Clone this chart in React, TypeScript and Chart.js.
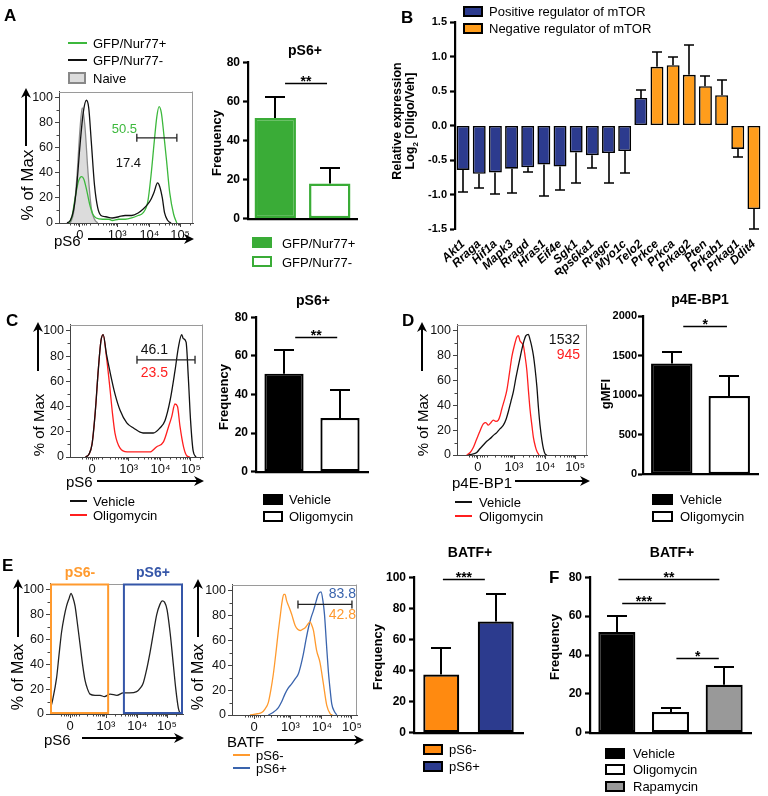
import React, { useEffect, useRef } from 'react';
import { Chart, registerables } from 'chart.js';
Chart.register(...registerables);

const FONT = "'Liberation Sans', Arial, Helvetica, sans-serif";
Chart.defaults.font.family = FONT;

// ---------------- DATA ----------------
// flow cytometry display axis (biexponential display units)
const FLOW_TICK_VALUES = [0, 1.15, 2.15, 3.1];
const FLOW_TICK_LABELS = ['0', '10³', '10⁴', '10⁵'];
const FLOW_Y_TICKS = [0, 20, 40, 60, 80, 100];
const FLOW_MINOR_X = [-0.3, -0.2, -0.12, -0.06, 0.06, 0.12, 0.2, 0.3, 0.55, 0.72, 0.82, 0.9, 0.96, 1.01, 1.06, 1.1, 1.45, 1.63, 1.75, 1.85, 1.93, 1.99, 2.05, 2.1, 2.45, 2.63, 2.75, 2.85, 2.92, 2.98, 3.03, 3.07, 3.4];
const FLOW_MINOR_Y = [10, 30, 50, 70, 90];

// Panel A
const A_HIST_NAIVE = [[-0.3, 0], [-0.2, 8], [-0.1, 35], [0, 75], [0.07, 92], [0.15, 78], [0.25, 40], [0.35, 12], [0.45, 3], [0.55, 0]];
const A_HIST_GFP_NEG = [[-0.4, 0], [-0.3, 2], [-0.2, 10], [-0.1, 30], [0, 62], [0.1, 88], [0.2, 98], [0.27, 92], [0.35, 65], [0.45, 30], [0.55, 12], [0.65, 6], [0.8, 5], [1.0, 4], [1.2, 5], [1.4, 6], [1.6, 6], [1.8, 8], [1.95, 11], [2.1, 15], [2.2, 19], [2.3, 25], [2.4, 32], [2.47, 29], [2.55, 20], [2.62, 8], [2.72, 2], [2.82, 0]];
const A_HIST_GFP_POS = [[-0.35, 0], [-0.25, 5], [-0.15, 20], [-0.05, 33], [0.05, 37], [0.12, 35], [0.2, 27], [0.3, 15], [0.4, 7], [0.5, 4], [0.7, 3], [0.9, 3], [1.0, 2], [1.2, 3], [1.4, 3], [1.6, 4], [1.8, 6], [1.95, 8], [2.1, 17], [2.2, 38], [2.3, 65], [2.38, 85], [2.45, 93], [2.52, 88], [2.6, 70], [2.68, 50], [2.78, 24], [2.9, 7], [3.0, 0]];
const A_GATE = { from: 1.76, to: 3.0, y: 68 };
const A_GATE_PCTS = ['50.5', '17.4'];
const A_GROUPS = ['GFP/Nur77+', 'GFP/Nur77-'];
const A_MEANS = [51.5, 18];
const A_SEM = [10.8, 8];
const A_SIG = [{ from: 0.18, to: 0.95, y: 69.5, label: '**' }];

// Panel B
const B_GENES = ['Akt1', 'Rraga', 'Hif1a', 'Mapk3', 'Rragd', 'Hras1', 'Eif4e', 'Sgk1', 'Rps6ka1', 'Rragc', 'Myo1c', 'Telo2', 'Prkce', 'Prkca', 'Prkag2', 'Pten', 'Prkab1', 'Prkag1', 'Ddit4'];
const B_LOG2 = [-0.644, -0.7, -0.68, -0.625, -0.606, -0.567, -0.596, -0.39, -0.43, -0.4, -0.37, 0.4, 0.85, 0.875, 0.735, 0.57, 0.44, -0.34, -1.21];
const B_SEM = [0.32, 0.21, 0.31, 0.355, 0.075, 0.45, 0.34, 0.45, 0.185, 0.44, 0.32, 0.11, 0.22, 0.115, 0.435, 0.15, 0.22, 0.11, 0.29];
const B_ROLE = ['pos', 'pos', 'pos', 'pos', 'pos', 'pos', 'pos', 'pos', 'pos', 'pos', 'pos', 'pos', 'neg', 'neg', 'neg', 'neg', 'neg', 'neg', 'neg'];

// Panel C
const C_HIST_VEH = [[-0.2, 0], [-0.1, 2], [0, 10], [0.1, 35], [0.2, 70], [0.28, 92], [0.35, 97], [0.45, 82], [0.56, 68], [0.72, 50], [0.88, 37], [1.09, 27], [1.3, 23], [1.6, 19], [1.92, 19], [2.13, 23], [2.29, 29], [2.45, 45], [2.6, 68], [2.71, 87], [2.81, 97], [2.86, 94], [2.95, 91], [3.02, 63], [3.09, 29], [3.17, 5], [3.26, 0]];
const C_HIST_OLIGO = [[-0.2, 0], [-0.1, 2], [0, 10], [0.1, 35], [0.2, 70], [0.28, 92], [0.35, 97], [0.45, 80], [0.56, 55], [0.64, 35], [0.72, 19], [0.88, 7], [1.1, 4], [1.3, 4], [1.6, 4], [1.82, 4], [2.02, 8], [2.24, 12], [2.4, 24], [2.5, 32], [2.6, 42], [2.68, 40], [2.76, 24], [2.87, 8], [2.97, 1], [3.07, 0]];
const C_GATE = { from: 1.41, to: 3.23, y: 77 };
const C_GATE_PCTS = ['46.1', '23.5'];
const C_GROUPS = ['Vehicle', 'Oligomycin'];
const C_MEANS = [50.8, 27.8];
const C_SEM = [12.2, 14.3];
const C_SIG = [{ from: 0.2, to: 0.95, y: 69.7, label: '**' }];

// Panel D
const D_HIST_VEH = [[-0.31, 0], [-0.15, 1], [-0.04, 2], [0.06, 5], [0.17, 8], [0.28, 11], [0.38, 13], [0.5, 16], [0.6, 18], [0.7, 21], [0.81, 24], [0.9, 29], [0.97, 35], [1.05, 43], [1.13, 51], [1.21, 62], [1.29, 72], [1.35, 79], [1.4, 85], [1.47, 92], [1.53, 96], [1.61, 97], [1.66, 93], [1.71, 88], [1.77, 80], [1.82, 70], [1.88, 55], [1.93, 38], [1.98, 24], [2.04, 12], [2.09, 5], [2.14, 1], [2.2, 0]];
const D_HIST_OLIGO = [[-0.36, 0], [-0.25, 2], [-0.15, 6], [-0.07, 11], [0.01, 16], [0.09, 21], [0.17, 25], [0.25, 26], [0.33, 24], [0.41, 26], [0.49, 28], [0.57, 27], [0.65, 28], [0.71, 32], [0.76, 37], [0.84, 44], [0.92, 52], [1.0, 65], [1.08, 79], [1.16, 88], [1.24, 95], [1.29, 96], [1.34, 92], [1.4, 90], [1.45, 88], [1.5, 80], [1.56, 68], [1.61, 52], [1.66, 37], [1.72, 24], [1.77, 14], [1.83, 7], [1.88, 3], [1.95, 0]];
const D_GMFI = ['1532', '945'];
const D_GROUPS = ['Vehicle', 'Oligomycin'];
const D_MEANS = [1400, 990];
const D_SEM = [140, 250];
const D_SIG = [{ from: 0.2, to: 0.96, y: 1879, label: '*' }];

// Panel E
const E_HIST_PS6 = [[-0.64, 3], [-0.55, 12], [-0.43, 29], [-0.35, 48], [-0.27, 66], [-0.19, 78], [-0.11, 87], [-0.03, 93], [0.03, 97], [0.1, 93], [0.16, 87], [0.24, 72], [0.32, 56], [0.4, 40], [0.48, 27], [0.56, 20], [0.64, 16], [0.8, 15], [0.96, 15], [1.1, 14], [1.28, 16], [1.5, 15], [1.7, 17], [1.9, 17], [2.13, 18], [2.25, 21], [2.34, 25], [2.45, 36], [2.56, 50], [2.67, 66], [2.77, 80], [2.87, 88], [2.95, 91], [3.02, 90], [3.1, 84], [3.2, 65], [3.3, 40], [3.38, 20], [3.46, 5], [3.52, 0]];
const E_PS6_GATES = [{ from: -0.64, to: 1.25 }, { from: 1.69, to: 3.61 }];
const E_HIST_BATF_NEG = [[-0.13, 0], [0.1, 1], [0.24, 2], [0.35, 5], [0.45, 10], [0.53, 20], [0.61, 33], [0.7, 52], [0.77, 68], [0.83, 80], [0.88, 90], [0.94, 97], [0.98, 97], [1.03, 92], [1.09, 88], [1.19, 81], [1.3, 72], [1.38, 69], [1.46, 68], [1.54, 69], [1.61, 70], [1.7, 73], [1.77, 75], [1.83, 72], [1.88, 68], [1.98, 52], [2.09, 42], [2.19, 26], [2.3, 8], [2.41, 1], [2.48, 0]];
const E_HIST_BATF_POS = [[0.45, 0], [0.6, 2], [0.77, 6], [0.88, 11], [0.98, 17], [1.09, 22], [1.19, 25], [1.3, 29], [1.4, 33], [1.48, 40], [1.56, 49], [1.64, 60], [1.72, 70], [1.8, 78], [1.88, 84], [1.96, 91], [2.03, 97], [2.12, 99], [2.18, 92], [2.23, 81], [2.29, 58], [2.35, 36], [2.41, 20], [2.46, 9], [2.54, 3], [2.62, 0]];
const E_GATE = { from: 1.39, to: 3.1, y: 89 };
const E_GATE_PCTS = ['83.8', '42.8'];
const E_GROUPS = ['pS6-', 'pS6+'];
const E_MEANS = [37.5, 71.5];
const E_SEM = [17, 17.7];
const E_SIG = [{ from: 0.03, to: 0.8, y: 98.7, label: '***' }];

// Panel F
const F_GROUPS = ['Vehicle', 'Oligomycin', 'Rapamycin'];
const F_MEANS = [51.8, 10.7, 24.7];
const F_SEM = [8.4, 2.1, 9.3];
const F_SIG = [
  { from: 0.03, to: 1.91, y: 79, label: '**' },
  { from: 0.1, to: 0.91, y: 66.5, label: '***' },
  { from: 1.11, to: 1.9, y: 38.5, label: '*' },
];

// ---------------- COLOURS ----------------
const GREEN = '#3aac37';
const GREEN_LINE = '#3cb83c';
const RED = '#ff1f1f';
const ORANGE_BAR = '#ff8a10';
const ORANGE_B = '#ff9d1c';
const ORANGE_LINE = '#ff9a2e';
const BLUE_BAR = '#2c3b8e';
const BLUE_LINE = '#3a64ad';
const GRAY_BAR = '#999999';

// ---------------- PLUGINS ----------------
function errorPlugin(errors: number[], cap: number, width = 2) {
  return {
    id: 'errorBars',
    afterDatasetsDraw(chart: any) {
      const ctx = chart.ctx;
      const meta = chart.getDatasetMeta(0);
      const ys = chart.scales.y;
      const vals = chart.data.datasets[0].data;
      ctx.save();
      ctx.strokeStyle = '#000';
      ctx.lineWidth = width;
      meta.data.forEach((el: any, i: number) => {
        const v = vals[i];
        const end = v >= 0 ? v + errors[i] : v - errors[i];
        const y1 = ys.getPixelForValue(v);
        const y2 = Math.round(ys.getPixelForValue(end));
        const x = Math.round(el.x);
        ctx.beginPath();
        ctx.moveTo(x, y1);
        ctx.lineTo(x, y2);
        ctx.moveTo(x - cap, y2);
        ctx.lineTo(x + cap, y2);
        ctx.stroke();
      });
      ctx.restore();
    },
  };
}

function sigPlugin(items: { from: number; to: number; y: number; label: string }[]) {
  return {
    id: 'sigBars',
    afterDatasetsDraw(chart: any) {
      const ctx = chart.ctx;
      const xs = chart.scales.x;
      const ys = chart.scales.y;
      const p0 = xs.getPixelForValue(0);
      const step = xs.getPixelForValue(1) - p0;
      ctx.save();
      ctx.strokeStyle = '#000';
      ctx.fillStyle = '#000';
      ctx.lineWidth = 1.5;
      ctx.font = `bold 14px ${FONT}`;
      ctx.textAlign = 'center';
      ctx.textBaseline = 'alphabetic';
      items.forEach((it) => {
        const a = p0 + it.from * step;
        const b = p0 + it.to * step;
        const y = Math.round(ys.getPixelForValue(it.y)) + 0.5;
        ctx.beginPath();
        ctx.moveTo(a, y);
        ctx.lineTo(b, y);
        ctx.stroke();
        ctx.fillText(it.label, (a + b) / 2, y + 2);
      });
      ctx.restore();
    },
  };
}

function flowFramePlugin(boxes: { from: number; to: number; color: string }[]) {
  return {
    id: 'flowFrame',
    beforeDatasetsDraw(chart: any) {
      const ctx = chart.ctx;
      const a = chart.chartArea;
      const xs = chart.scales.x;
      const ys = chart.scales.y;
      ctx.save();
      ctx.strokeStyle = '#9a9a9a';
      ctx.lineWidth = 1;
      ctx.beginPath();
      ctx.moveTo(a.left, Math.round(a.top) + 0.5);
      ctx.lineTo(a.right, Math.round(a.top) + 0.5);
      ctx.moveTo(Math.round(a.right) - 0.5, a.top);
      ctx.lineTo(Math.round(a.right) - 0.5, a.bottom);
      ctx.stroke();
      // minor ticks
      ctx.strokeStyle = '#444';
      ctx.beginPath();
      FLOW_MINOR_X.forEach((v) => {
        if (v <= xs.min || v >= xs.max) return;
        const x = Math.round(xs.getPixelForValue(v)) + 0.5;
        ctx.moveTo(x, a.bottom);
        ctx.lineTo(x, a.bottom + 2.5);
      });
      FLOW_MINOR_Y.forEach((v) => {
        const y = Math.round(ys.getPixelForValue(v)) + 0.5;
        ctx.moveTo(a.left, y);
        ctx.lineTo(a.left - 2.5, y);
      });
      ctx.stroke();
      ctx.restore();
    },
    afterDatasetsDraw(chart: any) {
      const ctx = chart.ctx;
      const xs = chart.scales.x;
      const ys = chart.scales.y;
      ctx.save();
      ctx.lineWidth = 2;
      boxes.forEach((b) => {
        const x1 = xs.getPixelForValue(b.from) + 1;
        const x2 = xs.getPixelForValue(b.to) - 1;
        const y1 = ys.getPixelForValue(ys.max) + 1;
        const y2 = ys.getPixelForValue(0) - 1;
        ctx.strokeStyle = b.color;
        ctx.strokeRect(x1, y1, x2 - x1, y2 - y1);
      });
      ctx.restore();
    },
  };
}

// ---------------- CHART BUILDERS ----------------
type M = [number, number, number, number]; // left(y-axis width), top, right, bottom(x-axis height)

function flowChart(
  m: M,
  xMin: number,
  xMax: number,
  curves: { pts: number[][]; color: string; fill?: string }[],
  gates: { from: number; to: number; y: number }[],
  boxes: { from: number; to: number; color: string }[] = []
) {
  const datasets: any[] = curves.map((c) => ({
    type: 'line',
    data: c.pts.map((p) => ({ x: p[0], y: p[1] })),
    borderColor: c.color,
    borderWidth: 1.3,
    backgroundColor: c.fill || 'transparent',
    fill: c.fill ? 'origin' : false,
    pointRadius: 0,
    cubicInterpolationMode: 'monotone',
    order: c.fill ? 3 : 2,
  }));
  gates.forEach((g) =>
    datasets.push({
      type: 'line',
      data: [{ x: g.from, y: g.y }, { x: g.to, y: g.y }],
      borderColor: '#222',
      borderWidth: 1.3,
      pointStyle: 'line',
      rotation: 90,
      pointRadius: 4,
      pointBorderColor: '#222',
      pointBorderWidth: 1.3,
      fill: false,
      order: 1,
    })
  );
  return {
    type: 'line',
    data: { datasets },
    options: {
      responsive: false,
      animation: false,
      devicePixelRatio: 1,
      layout: { padding: { left: 0, top: m[1], right: m[2], bottom: 0 } },
      plugins: { legend: { display: false }, tooltip: { enabled: false } },
      scales: {
        x: {
          type: 'linear',
          min: xMin,
          max: xMax,
          afterFit: (s: any) => { s.height = m[3]; },
          afterBuildTicks: (s: any) => { s.ticks = FLOW_TICK_VALUES.map((v) => ({ value: v })); },
          ticks: { callback: (_v: any, i: number) => FLOW_TICK_LABELS[i], font: { size: 13 }, color: '#111', padding: 1, maxRotation: 0, autoSkip: false },
          grid: { drawOnChartArea: false, tickLength: 4, tickColor: '#444' },
          border: { color: '#444', width: 1 },
        },
        y: {
          min: 0,
          max: 105,
          afterFit: (s: any) => { s.width = m[0]; },
          afterBuildTicks: (s: any) => { s.ticks = FLOW_Y_TICKS.map((v) => ({ value: v })); },
          ticks: { font: { size: 12.5 }, color: '#111', padding: 2 },
          grid: { drawOnChartArea: false, tickLength: 4, tickColor: '#444' },
          border: { color: '#444', width: 1 },
        },
      },
    },
    plugins: [flowFramePlugin(boxes)],
  };
}

function barChart(m: M, o: any) {
  return {
    type: 'bar',
    data: {
      labels: o.labels,
      datasets: [{
        data: o.values,
        backgroundColor: o.bg,
        borderColor: o.border,
        borderWidth: o.bw || 2.2,
        borderSkipped: false,
        barPercentage: 1,
        categoryPercentage: o.pct,
      }],
    },
    options: {
      responsive: false,
      animation: false,
      devicePixelRatio: 1,
      layout: { padding: { left: 0, top: m[1], right: m[2], bottom: 0 } },
      plugins: { legend: { display: false }, tooltip: { enabled: false } },
      scales: {
        x: {
          afterFit: (s: any) => { s.height = m[3]; },
          grid: { display: false },
          border: { display: !o.showX, color: '#000', width: 2.2 },
          ticks: o.showX
            ? { autoSkip: false, minRotation: 43, maxRotation: 43, padding: 0, color: '#000', font: { size: 12, weight: 'bold', style: 'italic' } }
            : { display: false },
        },
        y: {
          min: o.yMin || 0,
          max: o.yMax,
          afterFit: (s: any) => { s.width = m[0]; },
          ticks: { stepSize: o.step, color: '#000', padding: o.tickPad ?? 3, font: { size: o.tickSize || 12, weight: 'bold' }, callback: o.fmt || ((v: number) => String(v)) },
          grid: { drawOnChartArea: false, tickLength: 5, tickWidth: 2.2, tickColor: '#000' },
          border: { color: '#000', width: 2.2 },
        },
      },
    },
    plugins: [errorPlugin(o.errors, o.cap, o.ew || 2), sigPlugin(o.sig || [])],
  };
}

// ---------------- COMPONENTS ----------------
function ChartBox({ area, m, make }: { area: number[]; m: M; make: () => any }) {
  const ref = useRef<HTMLCanvasElement>(null);
  const w = area[2] - area[0] + m[0] + m[2];
  const h = area[3] - area[1] + m[1] + m[3];
  useEffect(() => {
    const chart = new Chart(ref.current as HTMLCanvasElement, make());
    return () => chart.destroy();
  }, []);
  return (
    <canvas
      ref={ref}
      width={w}
      height={h}
      style={{ position: 'absolute', left: area[0] - m[0], top: area[1] - m[1], width: w, height: h }}
    />
  );
}

function T({ x, y, children, size = 13, bold = false, italic = false, color = '#000', align = 'left', rot = false }: any) {
  const tx = align === 'left' ? '0' : align === 'center' ? '-50%' : '-100%';
  return (
    <div
      style={{
        position: 'absolute', left: x, top: y, whiteSpace: 'nowrap', lineHeight: 1,
        transform: rot ? 'translate(-50%,-50%) rotate(-90deg)' : `translate(${tx},-50%)`,
        fontSize: size, fontWeight: bold ? 700 : 400, fontStyle: italic ? 'italic' : 'normal', color,
      }}
    >
      {children}
    </div>
  );
}

function Box({ x, y, w, h, fill, stroke }: any) {
  return <div style={{ position: 'absolute', left: x, top: y, width: w, height: h, background: fill, border: `2px solid ${stroke}`, boxSizing: 'border-box' }} />;
}

function HArrow({ x1, x2, y }: any) {
  return (
    <g>
      <line x1={x1} y1={y} x2={x2 - 6} y2={y} stroke="#000" strokeWidth={2} />
      <polygon points={`${x2},${y} ${x2 - 10},${y - 5} ${x2 - 7},${y} ${x2 - 10},${y + 5}`} fill="#000" />
    </g>
  );
}
function VArrow({ x, y1, y2 }: any) {
  return (
    <g>
      <line x1={x} y1={y1} x2={x} y2={y2 + 6} stroke="#000" strokeWidth={2} />
      <polygon points={`${x},${y2} ${x - 5},${y2 + 10} ${x},${y2 + 7} ${x + 5},${y2 + 10}`} fill="#000" />
    </g>
  );
}
function LegLine({ x1, x2, y, color }: any) {
  return <line x1={x1} y1={y} x2={x2} y2={y} stroke={color} strokeWidth={2} />;
}

export default function App() {
  const flowM: M = [30, 8, 12, 20];
  return (
    <div style={{ position: 'absolute', left: 0, top: 0, width: 768, height: 796, background: '#fff', overflow: 'hidden', fontFamily: FONT, color: '#000' }}>
      {/* ---------- Panel A ---------- */}
      <ChartBox area={[59, 90, 193, 223]} m={flowM} make={() => flowChart(flowM, -0.65, 3.5, [
        { pts: A_HIST_NAIVE, color: '#8c8c8c', fill: '#dcdcdc' },
        { pts: A_HIST_GFP_NEG, color: '#111' },
        { pts: A_HIST_GFP_POS, color: GREEN_LINE },
      ], [A_GATE])} />
      <ChartBox area={[248, 62, 357, 223]} m={[32, 10, 6, 6]} make={() => barChart([32, 10, 6, 6], {
        labels: A_GROUPS, values: A_MEANS, errors: A_SEM, bg: [GREEN, '#fff'], border: [GREEN, GREEN],
        yMax: 80, step: 20, pct: 0.76, cap: 10, sig: A_SIG, bw: 2.5,
      })} />

      {/* ---------- Panel B ---------- */}
      <ChartBox area={[455, 22, 762, 229]} m={[34, 10, 4, 46]} make={() => barChart([34, 10, 4, 46], {
        labels: B_GENES, values: B_LOG2, errors: B_SEM,
        bg: B_ROLE.map((r) => (r === 'pos' ? BLUE_BAR : ORANGE_B)), border: '#000', bw: 1.6,
        yMin: -1.5, yMax: 1.5, step: 0.5, pct: 0.8, cap: 5, ew: 1.6, showX: true, tickSize: 11,
        fmt: (v: number) => v.toFixed(1),
      })} />

      {/* ---------- Panel C ---------- */}
      <ChartBox area={[70, 323, 203, 457]} m={flowM} make={() => flowChart(flowM, -0.69, 3.48, [
        { pts: C_HIST_VEH, color: '#111' },
        { pts: C_HIST_OLIGO, color: RED },
      ], [C_GATE])} />
      <ChartBox area={[256, 317, 368, 476]} m={[32, 10, 6, 6]} make={() => barChart([32, 10, 6, 6], {
        labels: C_GROUPS, values: C_MEANS, errors: C_SEM, bg: ['#000', '#fff'], border: '#000',
        yMax: 80, step: 20, pct: 0.7, cap: 10, sig: C_SIG,
      })} />

      {/* ---------- Panel D ---------- */}
      <ChartBox area={[457, 323, 587, 455]} m={flowM} make={() => flowChart(flowM, -0.67, 3.48, [
        { pts: D_HIST_VEH, color: '#111' },
        { pts: D_HIST_OLIGO, color: RED },
      ], [])} />
      <ChartBox area={[643, 316, 758, 476]} m={[40, 10, 6, 6]} make={() => barChart([40, 10, 6, 6], {
        labels: D_GROUPS, values: D_MEANS, errors: D_SEM, bg: ['#000', '#fff'], border: '#000',
        yMax: 2000, step: 500, pct: 0.72, cap: 10, sig: D_SIG, tickSize: 11, tickPad: 1,
      })} />

      {/* ---------- Panel E ---------- */}
      <ChartBox area={[50, 582, 183, 714]} m={flowM} make={() => flowChart(flowM, -0.64, 3.61, [
        { pts: E_HIST_PS6, color: '#222' },
      ], [], [
        { from: E_PS6_GATES[0].from, to: E_PS6_GATES[0].to, color: ORANGE_LINE },
        { from: E_PS6_GATES[1].from, to: E_PS6_GATES[1].to, color: '#3556a8' },
      ])} />
      <ChartBox area={[232, 583, 357, 715]} m={flowM} make={() => flowChart(flowM, -0.7, 3.26, [
        { pts: E_HIST_BATF_NEG, color: ORANGE_LINE },
        { pts: E_HIST_BATF_POS, color: BLUE_LINE },
      ], [E_GATE])} />
      <ChartBox area={[414, 577, 523, 737]} m={[32, 10, 6, 6]} make={() => barChart([32, 10, 6, 6], {
        labels: E_GROUPS, values: E_MEANS, errors: E_SEM, bg: [ORANGE_BAR, BLUE_BAR], border: '#000',
        yMax: 100, step: 20, pct: 0.66, cap: 10, sig: E_SIG,
      })} />

      {/* ---------- Panel F ---------- */}
      <ChartBox area={[590, 577, 751, 737]} m={[26, 10, 6, 6]} make={() => barChart([26, 10, 6, 6], {
        labels: F_GROUPS, values: F_MEANS, errors: F_SEM, bg: ['#000', '#fff', GRAY_BAR], border: '#000',
        yMax: 80, step: 20, pct: 0.69, cap: 10, sig: F_SIG,
      })} />

      {/* ---------- arrows & legend lines ---------- */}
      <svg width={768} height={796} style={{ position: 'absolute', left: 0, top: 0, pointerEvents: 'none' }}>
        <VArrow x={26} y1={146} y2={88} />
        <HArrow x1={88} x2={194} y={239} />
        <VArrow x={38} y1={371} y2={322} />
        <HArrow x1={97} x2={204} y={481} />
        <VArrow x={422} y1={371} y2={322} />
        <HArrow x1={515} x2={590} y={481} />
        <VArrow x={18} y1={637} y2={579} />
        <HArrow x1={82} x2={184} y={738} />
        <VArrow x={198} y1={637} y2={579} />
        <HArrow x1={277} x2={364} y={740} />
        <LegLine x1={68} x2={87} y={43} color={GREEN_LINE} />
        <LegLine x1={68} x2={87} y={60} color="#111" />
        <LegLine x1={70} x2={87} y={501} color="#111" />
        <LegLine x1={70} x2={87} y={515} color={RED} />
        <LegLine x1={455} x2={472} y={502} color="#111" />
        <LegLine x1={455} x2={472} y={516} color={RED} />
        <LegLine x1={233} x2={250} y={755} color={ORANGE_LINE} />
        <LegLine x1={233} x2={250} y={768} color={BLUE_LINE} />
      </svg>

      {/* ---------- panel letters ---------- */}
      <T x={4} y={15} size={17} bold>A</T>
      <T x={401} y={17} size={17} bold>B</T>
      <T x={6} y={320} size={17} bold>C</T>
      <T x={402} y={320} size={17} bold>D</T>
      <T x={2} y={565} size={17} bold>E</T>
      <T x={549} y={577} size={17} bold>F</T>

      {/* ---------- Panel A texts ---------- */}
      <T x={93} y={43}>{'GFP/Nur77+'}</T>
      <T x={93} y={60}>{'GFP/Nur77-'}</T>
      <Box x={68} y={72} w={18} h={12} fill="#dcdcdc" stroke="#888" />
      <T x={93} y={78}>Naive</T>
      <T x={27} y={185} size={17} rot>% of Max</T>
      <T x={54} y={240} size={15}>pS6</T>
      <T x={137} y={128} size={13} align="right" color={GREEN_LINE}>{A_GATE_PCTS[0]}</T>
      <T x={141} y={162} size={13} align="right" color="#111">{A_GATE_PCTS[1]}</T>
      <T x={305} y={50} size={14} bold align="center">pS6+</T>
      <T x={216} y={143} size={13} bold rot>Frequency</T>
      <Box x={252} y={237} w={20} h={11} fill={GREEN} stroke={GREEN} />
      <T x={282} y={243}>{A_GROUPS[0]}</T>
      <Box x={252} y={256} w={20} h={11} fill="#fff" stroke={GREEN} />
      <T x={282} y={262}>{A_GROUPS[1]}</T>

      {/* ---------- Panel B texts ---------- */}
      <Box x={463} y={6} w={20} h={11} fill={BLUE_BAR} stroke="#000" />
      <T x={489} y={11}>Positive regulator of mTOR</T>
      <Box x={463} y={23} w={20} h={11} fill={ORANGE_B} stroke="#000" />
      <T x={489} y={28}>Negative regulator of mTOR</T>
      <T x={397} y={121} size={12.5} bold rot>Relative expression</T>
      <T x={412} y={121} size={12.5} bold rot>
        <span>Log<sub style={{ fontSize: 8 }}>2</sub> [Oligo/Veh]</span>
      </T>

      {/* ---------- Panel C texts ---------- */}
      <T x={38} y={425} size={15} rot>% of Max</T>
      <T x={66} y={481} size={15}>pS6</T>
      <T x={168} y={349} size={14} align="right" color="#111">{C_GATE_PCTS[0]}</T>
      <T x={168} y={372} size={14} align="right" color={RED}>{C_GATE_PCTS[1]}</T>
      <T x={93} y={501}>Vehicle</T>
      <T x={93} y={515}>Oligomycin</T>
      <T x={313} y={300} size={14} bold align="center">pS6+</T>
      <T x={223} y={397} size={13} bold rot>Frequency</T>
      <Box x={263} y={494} w={20} h={11} fill="#000" stroke="#000" />
      <T x={289} y={499}>{C_GROUPS[0]}</T>
      <Box x={263} y={511} w={20} h={11} fill="#fff" stroke="#000" />
      <T x={289} y={516}>{C_GROUPS[1]}</T>

      {/* ---------- Panel D texts ---------- */}
      <T x={422} y={425} size={15} rot>% of Max</T>
      <T x={452} y={482} size={15}>p4E-BP1</T>
      <T x={580} y={339} size={14} align="right" color="#111">{D_GMFI[0]}</T>
      <T x={580} y={354} size={14} align="right" color={RED}>{D_GMFI[1]}</T>
      <T x={479} y={502}>Vehicle</T>
      <T x={479} y={516}>Oligomycin</T>
      <T x={700} y={299} size={14} bold align="center">p4E-BP1</T>
      <T x={605} y={394} size={13} bold rot>gMFI</T>
      <Box x={652} y={494} w={21} h={11} fill="#000" stroke="#000" />
      <T x={680} y={499}>{D_GROUPS[0]}</T>
      <Box x={652} y={511} w={21} h={11} fill="#fff" stroke="#000" />
      <T x={680} y={516}>{D_GROUPS[1]}</T>

      {/* ---------- Panel E texts ---------- */}
      <T x={80} y={572} size={14} bold align="center" color={ORANGE_LINE}>pS6-</T>
      <T x={153} y={572} size={14} bold align="center" color="#3556a8">pS6+</T>
      <T x={18} y={677} size={16} rot>% of Max</T>
      <T x={44} y={739} size={15}>pS6</T>
      <T x={198} y={677} size={16} rot>% of Max</T>
      <T x={227} y={741} size={15}>BATF</T>
      <T x={356} y={593} size={14} align="right" color={BLUE_LINE}>{E_GATE_PCTS[0]}</T>
      <T x={356} y={614} size={14} align="right" color={ORANGE_LINE}>{E_GATE_PCTS[1]}</T>
      <T x={256} y={755}>{E_GROUPS[0]}</T>
      <T x={256} y={768}>{E_GROUPS[1]}</T>
      <T x={470} y={552} size={14} bold align="center">BATF+</T>
      <T x={377} y={657} size={13} bold rot>Frequency</T>
      <Box x={423} y={744} w={20} h={11} fill={ORANGE_BAR} stroke="#000" />
      <T x={449} y={749}>{E_GROUPS[0]}</T>
      <Box x={423} y={761} w={20} h={11} fill={BLUE_BAR} stroke="#000" />
      <T x={449} y={766}>{E_GROUPS[1]}</T>

      {/* ---------- Panel F texts ---------- */}
      <T x={672} y={552} size={14} bold align="center">BATF+</T>
      <T x={554} y={647} size={13} bold rot>Frequency</T>
      <Box x={605} y={748} w={20} h={11} fill="#000" stroke="#000" />
      <T x={633} y={753}>{F_GROUPS[0]}</T>
      <Box x={605} y={764} w={20} h={11} fill="#fff" stroke="#000" />
      <T x={633} y={769}>{F_GROUPS[1]}</T>
      <Box x={605} y={781} w={20} h={11} fill={GRAY_BAR} stroke="#000" />
      <T x={633} y={786}>{F_GROUPS[2]}</T>
    </div>
  );
}
